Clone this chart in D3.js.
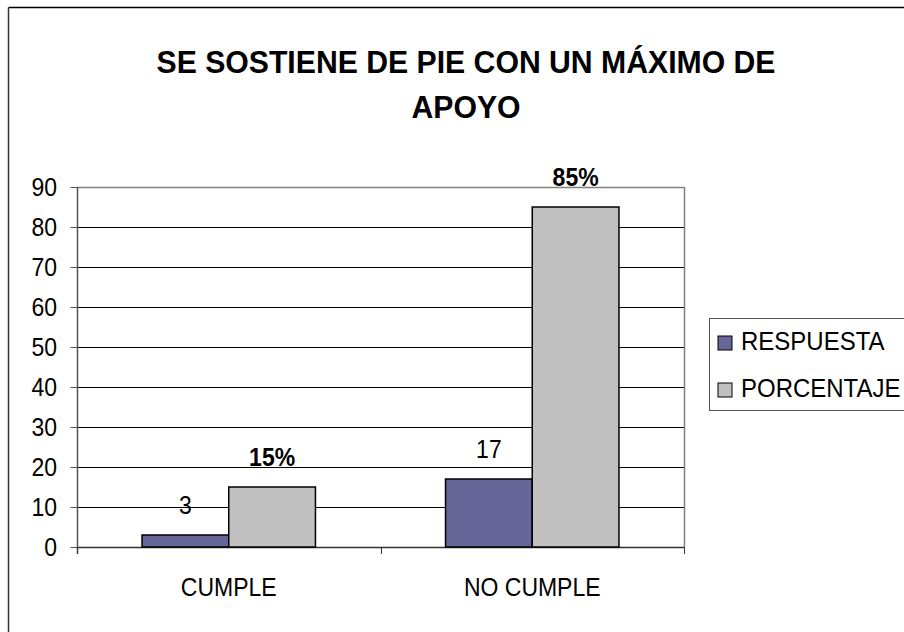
<!DOCTYPE html>
<html>
<head>
<meta charset="utf-8">
<script src="https://cdn.jsdelivr.net/npm/d3@7"></script>
<style>
  html, body { margin: 0; padding: 0; background: #fff; }
  svg { display: block; font-family: "Liberation Sans", Arial, sans-serif; }
</style>
</head>
<body>
<svg id="chart" width="904" height="632"></svg>
<script>
const titleLines = ["SE SOSTIENE DE PIE CON UN MÁXIMO DE", "APOYO"];
const categories = ["CUMPLE", "NO CUMPLE"];
const seriesNames = ["RESPUESTA", "PORCENTAJE"];
const respuesta = [3, 17];
const porcentaje = [15, 85];
const respuestaLabels = ["3", "17"];
const porcentajeLabels = ["15%", "85%"];
const yTicks = [0, 10, 20, 30, 40, 50, 60, 70, 80, 90];
const colors = ["#666699", "#C0C0C0"];

const svg = d3.select("#chart");
const plot = { left: 77, right: 684, top: 187, bottom: 547 };

function txt(parent, x, y, str, size, opts = {}) {
  const sy = opts.sy || 1.12;
  return parent.append("text")
    .attr("transform", `translate(${x},${y}) scale(1,${sy})`)
    .attr("text-anchor", opts.anchor || "start")
    .attr("font-size", size)
    .attr("font-weight", opts.bold ? "bold" : "normal")
    .attr("fill", "#000")
    .text(str);
}

// outer chart border (only top and left visible)
svg.append("line").attr("x1", 8.5).attr("x2", 904).attr("y1", 7.5).attr("y2", 7.5)
  .attr("stroke", "#000").attr("stroke-width", 1.5);
svg.append("line").attr("x1", 8.5).attr("x2", 8.5).attr("y1", 7.5).attr("y2", 632)
  .attr("stroke", "#333").attr("stroke-width", 1.5);

// title
txt(svg, 466, 73, titleLines[0], 30.2, { anchor: "middle", bold: true, sy: 1.05 });
txt(svg, 466, 118, titleLines[1], 30.2, { anchor: "middle", bold: true, sy: 1.05 });

const y = d3.scaleLinear().domain([0, 90]).range([plot.bottom, plot.top]);
const x0 = d3.scaleBand().domain(categories).range([plot.left, plot.right]).paddingInner(0).paddingOuter(0);
// gap width 150% => group of two bars occupies 2/(2+1.5) of category
const x1 = d3.scaleBand().domain(seriesNames).range([0, x0.bandwidth()])
  .paddingInner(0).paddingOuter(0.75);

// gridlines
const g = svg.append("g");
yTicks.filter(t => t > 0 && t < 90).forEach(t => {
  g.append("line").attr("x1", plot.left).attr("x2", plot.right)
    .attr("y1", Math.round(y(t)) + 0.5).attr("y2", Math.round(y(t)) + 0.5)
    .attr("stroke", "#000").attr("stroke-width", 1);
});
// plot area top & right border (gray)
g.append("line").attr("x1", plot.left).attr("x2", plot.right)
  .attr("y1", plot.top + 0.5).attr("y2", plot.top + 0.5).attr("stroke", "#808080").attr("stroke-width", 1.5);
g.append("line").attr("x1", plot.right + 0.5).attr("x2", plot.right + 0.5)
  .attr("y1", plot.top).attr("y2", plot.bottom).attr("stroke", "#808080").attr("stroke-width", 1.5);

// y axis
const yAxis = d3.axisLeft(y).tickValues(yTicks).tickSize(7).tickFormat("");
const ya = svg.append("g").attr("transform", `translate(${plot.left + 0.5},0)`).call(yAxis);
ya.select(".domain").attr("stroke", "#555").attr("stroke-width", 1.5).attr("d", `M0,${plot.top}V${plot.bottom + 7}`);
ya.selectAll(".tick line").attr("stroke", "#555");
yTicks.forEach(t => {
  txt(svg, 57, y(t) + 8.5, d3.format("d")(t), 23, { anchor: "end", sy: 1.1 });
});

// x axis baseline
svg.append("line").attr("x1", plot.left).attr("x2", plot.right)
  .attr("y1", plot.bottom + 0.5).attr("y2", plot.bottom + 0.5).attr("stroke", "#333").attr("stroke-width", 1.5);
// category boundary ticks
const bounds = categories.map(c => x0(c)).concat([x0(categories[categories.length - 1]) + x0.bandwidth()]);
bounds.forEach(bx => {
  svg.append("line").attr("x1", Math.round(bx) + 0.5).attr("x2", Math.round(bx) + 0.5)
    .attr("y1", plot.bottom).attr("y2", plot.bottom + 7).attr("stroke", "#333").attr("stroke-width", 1);
});
// category labels
categories.forEach(c => {
  txt(svg, x0(c) + x0.bandwidth() / 2, 596, c, 23, { anchor: "middle", sy: 1.15 });
});

// bars
const seriesData = [respuesta, porcentaje];
const seriesLabels = [respuestaLabels, porcentajeLabels];
seriesNames.forEach((s, si) => {
  categories.forEach((c, ci) => {
    const v = seriesData[si][ci];
    const bx = x0(c) + x1(s);
    svg.append("rect").attr("x", bx).attr("y", y(v))
      .attr("width", x1.bandwidth()).attr("height", y(0) - y(v))
      .attr("fill", colors[si]).attr("stroke", "#000").attr("stroke-width", 1.5);
    txt(svg, bx + x1.bandwidth() / 2, y(v) - 21.5, seriesLabels[si][ci], 23,
      { anchor: "middle", bold: si === 1, sy: 1.15 });
  });
});

// legend
const lg = svg.append("g");
lg.append("rect").attr("x", 709.5).attr("y", 318.5).attr("width", 220).attr("height", 92)
  .attr("fill", "#fff").attr("stroke", "#555").attr("stroke-width", 1);
seriesNames.forEach((s, i) => {
  const ly = 350 + i * 47;
  lg.append("rect").attr("x", 718).attr("y", ly - 14).attr("width", 14).attr("height", 14)
    .attr("fill", colors[i]).attr("stroke", "#000").attr("stroke-width", 1);
  txt(lg, 741, ly, s, 24, { sy: 1.05 });
});
</script>
</body>
</html>
